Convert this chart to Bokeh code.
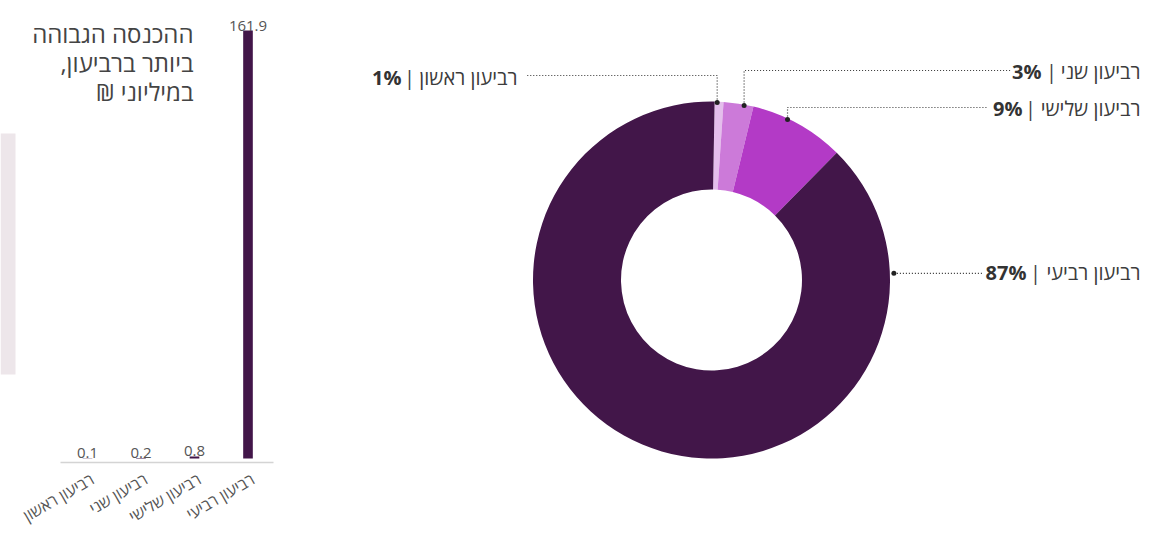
import math
from bokeh.plotting import figure
from bokeh.models import Range1d
from bokeh.core.properties import value
from bokeh.embed import file_html
from bokeh.resources import INLINE

# ---------------- data ----------------
quarters = ["רביעון ראשון", "רביעון שני", "רביעון שלישי", "רביעון רביעי"]
income = [0.1, 0.2, 0.8, 161.9]
income_labels = ["0.1", "0.2", "0.8", "161.9"]
share = [0.8, 2.7, 8.6, 87.9]
share_labels = ["1%", "3%", "9%", "87%"]
title_lines = ["ההכנסה הגבוהה", "ביותר ברביעון,", "במיליוני ₪"]

# ---------------- style / layout ----------------
FONT = "Open Sans"
DARK = "#421649"
SLICE_COLORS = ["#e4beec", "#cc7ad9", "#b33ac6", DARK]
TEXT = "#3c3c3c"
RLM = "\u200f"

W, H = 1142, 526


def px(x):
    return x


def py(y):
    return H - y


def rtl(s):
    return RLM + s + RLM


p = figure(width=W, height=H, x_range=Range1d(0, W), y_range=Range1d(0, H),
           output_backend="svg", toolbar_location=None, min_border=0,
           x_axis_location=None, y_axis_location=None)
p.grid.visible = False
p.outline_line_color = None
p.background_fill_color = "white"
p.border_fill_color = "white"

# ---------- left panel: bar chart ----------
BASE_PAGE_Y = 458      # y of value 0
TOP_PAGE_Y = 30        # y of the largest bar top
CAT0_PAGE_X = 87       # x of first category centre
CAT_STEP = 53.5        # px per category

ppu = (BASE_PAGE_Y - TOP_PAGE_Y) / max(income)
y0 = py(BASE_PAGE_Y)
p.extra_y_ranges = {"by": Range1d(-y0 / ppu, (H - y0) / ppu)}
x0 = px(CAT0_PAGE_X)
p.extra_x_ranges = {"bx": Range1d(0.5 - x0 / CAT_STEP, 0.5 + (W - x0) / CAT_STEP)}

xs = [i + 0.5 for i in range(len(quarters))]

# light side panel
p.quad(left=0, right=px(15), bottom=py(374), top=py(133),
       fill_color="#ede6ea", line_color=None)

# baseline
p.segment(x0=px(60), y0=py(462), x1=px(273), y1=py(462),
          line_color="#d4d4d4", line_width=1.5)

p.vbar(x=xs, top=income, bottom=0, width=0.18, fill_color=DARK, line_color=None,
       x_range_name="bx", y_range_name="by")

p.text(x=xs, y=income, text=income_labels, x_range_name="bx", y_range_name="by",
       text_align="center", text_baseline="alphabetic", y_offset=-5,
       text_font=value(FONT), text_font_size="15px", text_color="#555555")

p.text(x=xs, y=[0] * len(xs), text=quarters, x_range_name="bx", y_range_name="by",
       angle=math.pi / 6, text_align="right", text_baseline="middle",
       x_offset=5, y_offset=19,
       text_font=value(FONT), text_font_size="16px", text_color="#555555")

# title
title_y = [33, 62, 91]
p.text(x=[px(193)] * 3, y=[py(v) for v in title_y], text=[rtl(t) for t in title_lines],
       text_align="right", text_baseline="alphabetic",
       text_font=value(FONT), text_font_size="24px", text_color="#444444")

# ---------- right panel: donut ----------
CX, CY = px(711), py(279.5)
R_OUT, R_IN = 178.5, 90.5
START_OFFSET = math.radians(1.0)

total = sum(share)
starts, ends, cum = [], [], 0.0
for v in share:
    a0 = math.pi / 2 - START_OFFSET - 2 * math.pi * cum / total
    cum += v
    a1 = math.pi / 2 - START_OFFSET - 2 * math.pi * cum / total
    starts.append(a0)
    ends.append(a1)

p.annular_wedge(x=CX, y=CY, inner_radius=R_IN, outer_radius=R_OUT,
                start_angle=starts, end_angle=ends, direction="clock",
                fill_color=SLICE_COLORS, line_color=None)

# leader lines
anchor_frac = [0.29, 0.69, 0.38, 0.137]
anchor_extra = [-1, -1, -1, 4]
label_line_y = [75, 70, 107, None]      # y of the horizontal part
label_line_end = [526, 1010, 987, 982]  # x where the dotted line ends

dots_x, dots_y, lxs, lys = [], [], [], []
for i in range(len(share)):
    a = starts[i] + anchor_frac[i] * (ends[i] - starts[i])
    r = R_OUT + anchor_extra[i]
    dx, dy = CX + r * math.cos(a), CY + r * math.sin(a)
    dots_x.append(dx)
    dots_y.append(dy)
    ly = dy if label_line_y[i] is None else py(label_line_y[i])
    lxs.append([dx, dx, px(label_line_end[i])])
    lys.append([dy, ly, ly])

p.multi_line(xs=lxs, ys=lys, line_color="#333333", line_width=1.2, line_dash="1 2")
p.scatter(x=dots_x, y=dots_y, size=5, fill_color="#222222", line_color=None)

# label texts
text_y = [77, 71, 108, 272]
name_right = [517, 1140, 1140, 1140]
bar_x = [409, 1051, 1030, 1035]
pct_right = [401, 1041, 1022, 1026]

p.text(x=[px(v) for v in name_right], y=[py(v) for v in text_y], text=[rtl(q) for q in quarters],
       text_align="right", text_baseline="middle",
       text_font=value(FONT), text_font_size="20px", text_color=TEXT)
p.text(x=[px(v) for v in bar_x], y=[py(v) for v in text_y], text=["|"] * 4,
       text_align="center", text_baseline="middle",
       text_font=value(FONT), text_font_size="20px", text_color=TEXT)
p.text(x=[px(v) for v in pct_right], y=[py(v) for v in text_y], text=share_labels,
       text_align="right", text_baseline="middle",
       text_font=value(FONT), text_font_size="20px", text_font_style="bold",
       text_color="#333333")

open("out.html", "w").write(file_html(p, INLINE))
